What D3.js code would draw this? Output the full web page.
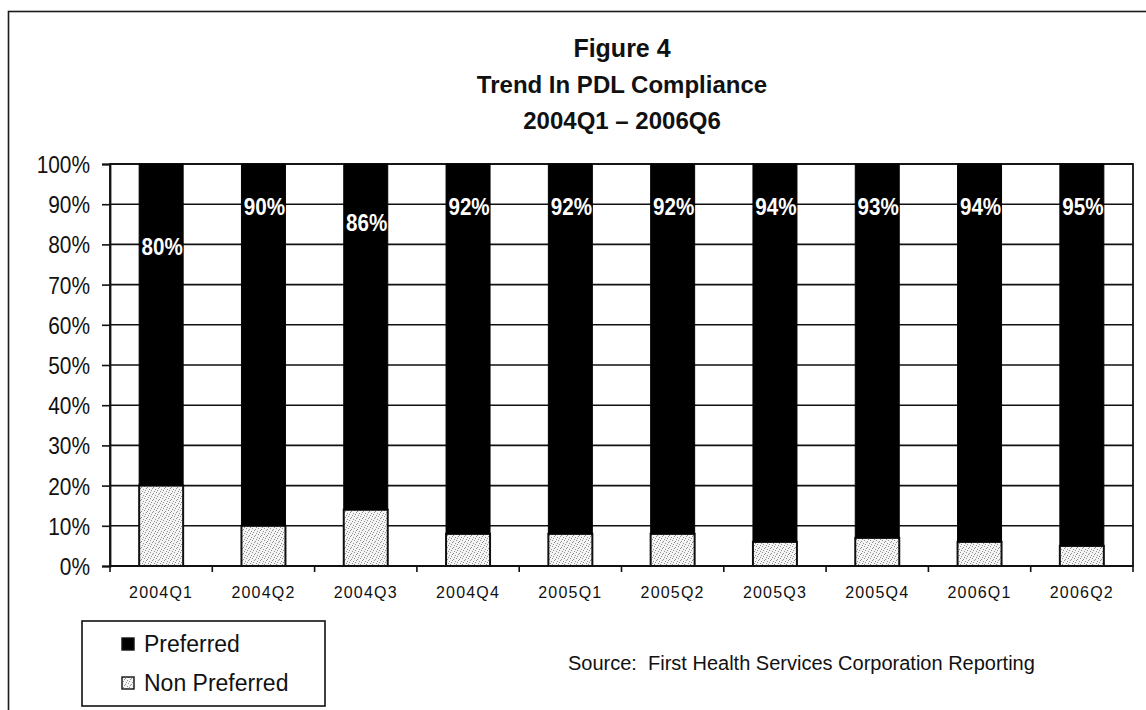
<!DOCTYPE html>
<html>
<head>
<meta charset="utf-8">
<script src="https://cdnjs.cloudflare.com/ajax/libs/d3/7.8.5/d3.min.js"></script>
<style>
  html, body { margin: 0; padding: 0; background: #fff; }
  svg { display: block; font-family: "Liberation Sans", Arial, sans-serif; }
</style>
</head>
<body>
<svg id="chart" width="1146" height="710"></svg>
<script>
// Quarterly PDL compliance, percent of claims
const quarters = ["2004Q1", "2004Q2", "2004Q3", "2004Q4", "2005Q1", "2005Q2", "2005Q3", "2005Q4", "2006Q1", "2006Q2"];
const preferred = [80, 90, 86, 92, 92, 92, 94, 93, 94, 95];
const nonPreferred = [20, 10, 14, 8, 8, 8, 6, 7, 6, 5];
const yTicks = [0, 10, 20, 30, 40, 50, 60, 70, 80, 90, 100];
const titleLines = ["Figure 4", "Trend In PDL Compliance", "2004Q1 \u2013 2006Q6"];
const seriesNames = ["Preferred", "Non Preferred"];
const sourceNote = "Source:  First Health Services Corporation Reporting";

const svg = d3.select("#chart");
const plot = { left: 110, right: 1133, top: 164, bottom: 566 };

// stipple fill for the non-preferred segment
const defs = svg.append("defs");
const pat = defs.append("pattern")
  .attr("id", "stipple").attr("patternUnits", "userSpaceOnUse")
  .attr("width", 6).attr("height", 6);
pat.append("rect").attr("width", 6).attr("height", 6).attr("fill", "#f4f4f4");
[[0, 0], [3, 1], [5, 3], [1, 4], [4, 5], [2, 2]].forEach(([x, y]) => {
  pat.append("rect").attr("x", x).attr("y", y).attr("width", 1).attr("height", 1).attr("fill", "#909090");
});

// outer frame
svg.append("rect")
  .attr("x", 8.5).attr("y", 11.5).attr("width", 1160).attr("height", 720)
  .attr("fill", "none").attr("stroke", "#1a1a1a").attr("stroke-width", 1.6);

// title
svg.append("g").selectAll("text").data(titleLines).join("text")
  .attr("x", 622).attr("y", (d, i) => 48 + i * 36)
  .attr("text-anchor", "middle").attr("dominant-baseline", "central")
  .attr("font-size", (d, i) => i === 0 ? 25 : 24).attr("font-weight", "bold").attr("fill", "#111")
  .text(d => d);

const x = d3.scaleBand().domain(quarters).range([plot.left, plot.right]).paddingInner(0).paddingOuter(0);
const y = d3.scaleLinear().domain([0, 100]).range([plot.bottom, plot.top]);
const barW = x.bandwidth() * 0.43;

// horizontal gridlines
svg.append("g").selectAll("line").data(yTicks).join("line")
  .attr("x1", plot.left).attr("x2", plot.right)
  .attr("y1", d => y(d)).attr("y2", d => y(d))
  .attr("stroke", "#111").attr("stroke-width", 1.6);

// plot frame
svg.append("rect")
  .attr("x", plot.left).attr("y", plot.top)
  .attr("width", plot.right - plot.left).attr("height", plot.bottom - plot.top)
  .attr("fill", "none").attr("stroke", "#111").attr("stroke-width", 1.8);

// y axis
const yAxis = svg.append("g").attr("transform", `translate(${plot.left},0)`)
  .call(d3.axisLeft(y).tickValues(yTicks).tickSize(8).tickPadding(12).tickFormat(d => d + "%"));
yAxis.select(".domain").attr("stroke", "#111").attr("stroke-width", 1.8);
yAxis.selectAll(".tick line").attr("stroke", "#111").attr("stroke-width", 1.6);
yAxis.selectAll(".tick text")
  .attr("font-size", 24).attr("fill", "#111")
  .attr("font-family", "'Liberation Sans', Arial, sans-serif")
  .attr("dy", "0.35em")
  .attr("transform", "scale(0.87,1)")
  .attr("x", -20 / 0.87);

// x axis with ticks at category boundaries
const xAxis = svg.append("g").attr("transform", `translate(0,${plot.bottom})`);
xAxis.append("line").attr("x1", plot.left).attr("x2", plot.right)
  .attr("stroke", "#111").attr("stroke-width", 1.8);
xAxis.selectAll("line.tk").data(quarters.concat(["end"])).join("line").attr("class", "tk")
  .attr("x1", (d, i) => plot.left + i * x.step()).attr("x2", (d, i) => plot.left + i * x.step())
  .attr("y1", 0).attr("y2", 6).attr("stroke", "#111").attr("stroke-width", 1.6);
xAxis.selectAll("text").data(quarters).join("text")
  .attr("x", d => x(d) + x.bandwidth() / 2).attr("y", 26)
  .attr("text-anchor", "middle").attr("dominant-baseline", "central")
  .attr("font-size", 16).attr("letter-spacing", 1.2).attr("fill", "#111")
  .text(d => d);

// stacked bars: non-preferred at the base, preferred above
const bars = svg.append("g");
bars.selectAll("rect.np").data(quarters).join("rect").attr("class", "np")
  .attr("x", d => x(d) + (x.bandwidth() - barW) / 2)
  .attr("y", (d, i) => y(nonPreferred[i]))
  .attr("width", barW)
  .attr("height", (d, i) => y(0) - y(nonPreferred[i]))
  .attr("fill", "url(#stipple)").attr("stroke", "#111").attr("stroke-width", 2);
bars.selectAll("rect.p").data(quarters).join("rect").attr("class", "p")
  .attr("x", d => x(d) + (x.bandwidth() - barW) / 2)
  .attr("y", (d, i) => y(nonPreferred[i] + preferred[i]))
  .attr("width", barW)
  .attr("height", (d, i) => y(nonPreferred[i]) - y(nonPreferred[i] + preferred[i]))
  .attr("fill", "#000").attr("stroke", "#000").attr("stroke-width", 1);

// value labels on the preferred segment
svg.append("g").selectAll("g").data(quarters).join("g")
  .attr("transform", (d, i) => `translate(${x(d) + x.bandwidth() / 2 + 1},${y(Math.min(preferred[i], 90)) + 3}) scale(0.86,1)`)
  .append("text")
  .attr("text-anchor", "middle").attr("dominant-baseline", "central")
  .attr("font-size", 24).attr("font-weight", "bold").attr("fill", "#fff")
  .text((d, i) => preferred[i] + "%");

// legend
const lg = svg.append("g");
lg.append("rect").attr("x", 82).attr("y", 621).attr("width", 243).attr("height", 85)
  .attr("fill", "#fff").attr("stroke", "#111").attr("stroke-width", 1.6);
const items = lg.selectAll("g").data(seriesNames).join("g")
  .attr("transform", (d, i) => `translate(122,${644 + i * 39})`);
items.append("rect").attr("x", 0).attr("y", -6).attr("width", 12).attr("height", 12)
  .attr("fill", (d, i) => i === 0 ? "#000" : "url(#stipple)")
  .attr("stroke", "#111").attr("stroke-width", 1.4);
items.append("text").attr("x", 22).attr("y", 0)
  .attr("dominant-baseline", "central")
  .attr("font-size", 23).attr("fill", "#111")
  .text(d => d);

// source note
svg.append("text").attr("x", 568).attr("y", 663)
  .attr("dominant-baseline", "central")
  .attr("font-size", 20).attr("fill", "#111")
  .style("white-space", "pre")
  .text(sourceNote);
</script>
</body>
</html>
